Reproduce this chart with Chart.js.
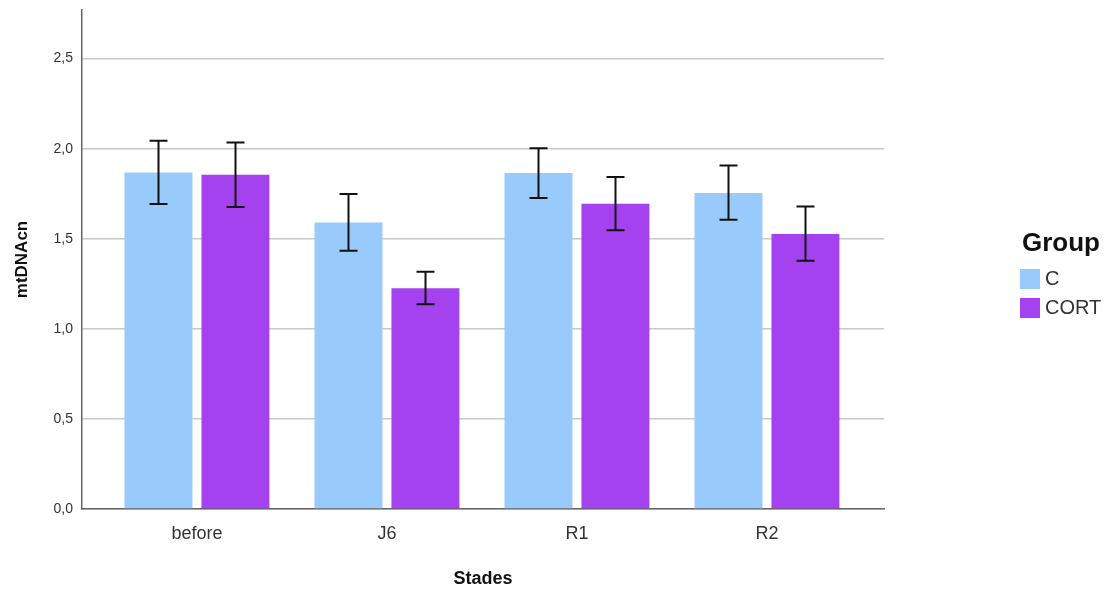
<!DOCTYPE html>
<html>
<head>
<meta charset="utf-8">
<script src="https://cdn.jsdelivr.net/npm/chart.js@4"></script>
<style>
  body { margin: 0; background: #fff; font-family: "Liberation Sans", Arial, sans-serif; }
  #wrap { position: relative; width: 1113px; height: 594px; }
  #legend { position: absolute; left: 1020px; top: 226px; color: #333; }
  #legend h3 { margin: 0 0 6px 2px; font-size: 26px; line-height: 32px; font-weight: bold; color: #111; }
  .item { display: flex; align-items: center; height: 29px; font-size: 20px; }
  .box { width: 20px; height: 20px; margin-right: 5px; }
</style>
</head>
<body>
<div id="wrap">
  <canvas id="chart" width="1113" height="594"></canvas>
  <div id="legend"></div>
</div>
<script>
// data
const stades = ['before', 'J6', 'R1', 'R2'];
const groups = ['C', 'CORT'];
const colors = ['#98CAFC', '#A442F0'];

const meanC    = [1.868, 1.591, 1.865, 1.754];
const lowC     = [1.693, 1.433, 1.726, 1.606];
const highC    = [2.044, 1.748, 2.002, 1.907];
const meanCort = [1.856, 1.226, 1.694, 1.526];
const lowCort  = [1.676, 1.137, 1.548, 1.378];
const highCort = [2.035, 1.317, 1.843, 1.679];

const yTicks = [0, 0.5, 1, 1.5, 2, 2.5];

const errors = [
    { low: lowC, high: highC },
    { low: lowCort, high: highCort }
];

const errorBars = {
    id: 'errorBars',
    afterDatasetsDraw(chart) {
        const ctx = chart.ctx;
        const y = chart.scales.y;
        ctx.save();
        ctx.strokeStyle = '#111';
        ctx.lineWidth = 2;
        chart.data.datasets.forEach((ds, i) => {
            const meta = chart.getDatasetMeta(i);
            meta.data.forEach((bar, j) => {
                const top = y.getPixelForValue(errors[i].high[j]);
                const bot = y.getPixelForValue(errors[i].low[j]);
                const x = Math.round(bar.x) + 0.5;
                ctx.beginPath();
                ctx.moveTo(x, top); ctx.lineTo(x, bot);
                ctx.moveTo(x - 9, top); ctx.lineTo(x + 9, top);
                ctx.moveTo(x - 9, bot); ctx.lineTo(x + 9, bot);
                ctx.stroke();
            });
        });
        ctx.restore();
    }
};

const datasets = [meanC, meanCort].map((vals, i) => ({
    label: groups[i],
    data: vals.map((v, j) => ({ x: j, y: v })),
    backgroundColor: colors[i],
    borderWidth: 0,
    categoryPercentage: 0.81,
    barPercentage: 0.883
}));

new Chart(document.getElementById('chart'), {
    type: 'bar',
    data: { datasets: datasets },
    options: {
        responsive: false,
        animation: false,
        layout: { padding: { top: 10, right: 229, left: 0, bottom: 0 } },
        plugins: { legend: { display: false }, tooltip: { enabled: false } },
        scales: {
            x: {
                type: 'linear',
                min: -0.605,
                max: 3.616,
                offset: false,
                grid: { display: false, offset: false },
                border: { color: '#666', width: 1.5 },
                afterBuildTicks(scale) { scale.ticks = stades.map((s, i) => ({ value: i })); },
                afterFit(scale) { scale.height = 85; },
                ticks: {
                    callback: v => stades[v],
                    color: '#333',
                    font: { family: 'Liberation Sans', size: 18 },
                    padding: 6,
                    maxRotation: 0
                },
                title: {
                    display: true,
                    text: 'Stades',
                    color: '#111',
                    font: { family: 'Liberation Sans', size: 18, weight: 'bold' },
                    padding: { top: 22 }
                }
            },
            y: {
                min: 0,
                max: 2.77,
                afterBuildTicks(scale) { scale.ticks = yTicks.map(v => ({ value: v })); },
                afterFit(scale) {
                    scale.width = 82;
                    scale.paddingTop = 0;
                    scale.paddingBottom = 0;
                },
                grid: { color: '#c8c8c8', lineWidth: 1.5, drawTicks: false },
                border: { color: '#666', width: 1.5 },
                ticks: {
                    callback: v => v.toFixed(1).replace('.', ','),
                    color: '#333',
                    font: { family: 'Liberation Sans', size: 14 },
                    padding: 9
                },
                title: {
                    display: true,
                    text: 'mtDNAcn',
                    color: '#111',
                    font: { family: 'Liberation Sans', size: 17, weight: 'bold' },
                    padding: { top: 12, bottom: 4 }
                }
            }
        }
    },
    plugins: [errorBars]
});

const legend = document.getElementById('legend');
legend.innerHTML = '<h3>Group</h3>' + groups.map((g, i) =>
    `<div class="item"><span class="box" style="background:${colors[i]}"></span>${g}</div>`
).join('');
</script>
</body>
</html>
